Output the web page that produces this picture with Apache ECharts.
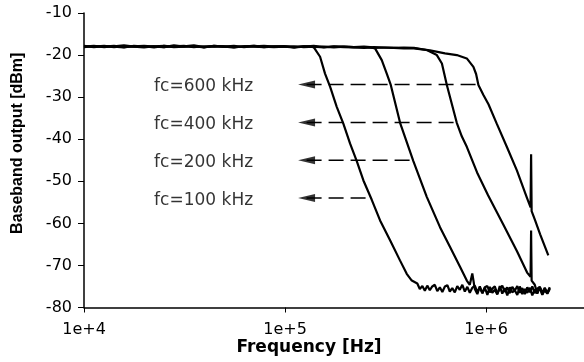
<!DOCTYPE html>
<html>
<head>
<meta charset="utf-8">
<script src="https://cdn.jsdelivr.net/npm/echarts@6/dist/echarts.min.js"></script>
<style>
  html, body {margin: 0; padding: 0; background: #fff;}
  #chart {width: 584px; height: 362px;}
</style>
</head>
<body>
<div id="chart"></div>
<script>
// passband, shared frequencies [Hz]
const flatFreq = [1.00e4, 1.12e4, 1.26e4, 1.41e4, 1.58e4, 1.77e4, 1.99e4, 2.23e4, 2.50e4, 2.80e4,
  3.14e4, 3.52e4, 3.95e4, 4.43e4, 4.97e4, 5.57e4, 6.25e4, 7.01e4, 7.86e4, 8.81e4,
  9.88e4, 1.11e5, 1.24e5, 1.39e5, 1.56e5, 1.75e5, 1.96e5, 2.20e5, 2.47e5, 2.77e5,
  3.10e5, 3.48e5, 3.90e5, 4.38e5];
const fc100Flat = [-18.0, -17.8, -18.1, -17.9, -17.7, -18.0, -17.9, -18.2, -17.8, -18.0, -17.9, -17.7,
  -18.1, -17.9, -18.0, -17.8, -18.1, -17.9, -17.8, -18.0, -17.9, -18.1, -17.9];
const fc200Flat = [-17.8, -18.1, -17.9, -18.0, -18.2, -17.8, -18.0, -17.9, -18.1, -17.7, -18.0, -17.9,
  -18.2, -17.8, -18.0, -18.1, -17.9, -17.8, -18.1, -18.0, -17.9, -18.2, -18.0, -17.8, -18.1, -17.9,
  -18.0, -18.1, -18.0];
const fc400Flat = [-17.9, -18.0, -17.8, -18.1, -17.9, -18.0, -18.2, -17.9, -17.8, -18.1, -18.0, -17.9,
  -18.1, -17.8, -18.0, -18.2, -17.9, -18.0, -18.1, -17.9, -18.0, -18.2, -17.9, -18.1, -18.0, -18.2,
  -18.0, -18.1, -18.3, -18.1, -18.2, -18.3, -18.2, -18.3];
const fc600Flat = [-18.1, -17.9, -18.0, -17.8, -18.1, -17.9, -17.8, -18.0, -18.1, -17.9, -17.8, -18.1,
  -17.9, -18.0, -17.9, -18.1, -18.0, -17.8, -18.0, -18.1, -18.0, -17.9, -18.1, -18.0, -18.2, -18.0,
  -18.1, -18.2, -18.1, -18.3, -18.2, -18.3, -18.4, -18.4];

// roll-off
const fc100RollFreq = [1.383e5, 1.494e5, 1.581e5, 1.675e5, 1.808e5, 1.950e5, 2.105e5, 2.274e5, 2.454e5, 2.700e5,
  2.97e5, 3.33e5, 3.73e5, 4.03e5, 4.27e5];
const fc100RollDb = [-18.0, -20.4, -24.4, -27.5, -32.3, -36.3, -41.0, -45.2, -49.8, -54.4,
  -59.3, -64.0, -68.8, -72.0, -73.6];
const fc200RollFreq = [2.65e5, 2.804e5, 3.028e5, 3.206e5, 3.357e5, 3.735e5, 4.348e5, 5.07e5, 5.90e5, 6.62e5, 7.43e5, 8.02e5];
const fc200RollDb = [-18.1, -18.4, -21.2, -24.4, -27.1, -36.1, -45.2, -53.7, -60.9, -65.6, -70.4, -73.6];
const fc400RollFreq = [5.07e5, 5.69e5, 6.03e5, 6.38e5, 7.15e5, 7.57e5, 8.02e5, 9.02e5, 1.023e6, 1.216e6, 1.427e6, 1.600e6,
  1.665e6, 1.675e6, 1.685e6, 1.694e6];
const fc400RollDb = [-18.8, -20.0, -22.0, -27.1, -36.1, -39.3, -41.8, -47.9, -53.3, -60.2, -66.7, -71.7,
  -72.7, -61.7, -73.6, -73.8];
const fc600RollFreq = [5.26e5, 6.25e5, 7.15e5, 8.02e5, 8.65e5, 8.92e5, 9.16e5, 9.7e5, 1.028e6, 1.13e6, 1.268e6, 1.423e6, 1.594e6,
  1.665e6, 1.675e6, 1.685e6, 1.754e6, 1.858e6, 2.04e6];
const fc600RollDb = [-18.9, -19.6, -20.0, -20.8, -22.8, -24.5, -27.1, -29.5, -31.7, -36.3, -41.8, -47.4, -53.8,
  -56.2, -43.6, -57.1, -59.3, -62.6, -67.6];

// noise floor, shared frequencies [Hz]
const floorFreq = [4.55e5, 4.68e5, 4.82e5, 4.96e5, 5.10e5, 5.25e5, 5.40e5, 5.56e5, 5.72e5, 5.89e5,
  6.06e5, 6.24e5, 6.42e5, 6.60e5, 6.79e5, 6.99e5, 7.19e5, 7.40e5, 7.62e5, 7.84e5,
  8.07e5, 8.30e5, 8.54e5, 8.79e5, 9.05e5, 9.31e5, 9.58e5, 9.86e5,
  1.015e6, 1.044e6, 1.074e6, 1.105e6, 1.137e6, 1.170e6, 1.204e6, 1.239e6, 1.275e6, 1.312e6,
  1.350e6, 1.389e6, 1.430e6, 1.471e6, 1.514e6, 1.558e6, 1.603e6, 1.650e6, 1.698e6, 1.747e6,
  1.798e6, 1.850e6, 1.904e6, 1.959e6, 2.016e6, 2.075e6];
const fc100Floor = [-74.3, -75.6, -74.9, -76.0, -74.8, -75.9, -75.0, -74.6, -76.1,
  -75.2, -76.3, -75.0, -74.7, -76.2, -75.4, -76.4, -74.9, -75.8,
  -74.6, -76.2, -75.1, -76.5, -75.3, -74.8, -76.3, -75.2, -76.6,
  -75.2, -74.9, -76.4, -75.5, -75.0, -76.7, -75.6, -74.8, -76.3,
  -75.2, -76.6, -75.1, -76.0, -74.9, -76.5, -75.4, -76.8, -75.2,
  -76.4, -75.0, -76.6, -75.5, -75.1, -76.5, -75.3, -76.7, -75.6];
const fc200Floor = [-74.6, -71.9, -75.6, -76.8, -75.0, -76.6, -75.3, -77.0, -75.1, -76.5, -75.8,
  -76.9, -74.9, -76.7, -75.4, -77.1, -75.2, -76.4, -75.9, -77.0, -75.0, -76.8,
  -75.6, -76.5, -75.3, -77.1, -75.7, -76.6, -75.1, -76.9, -75.9, -76.7, -75.4];
const fc400Floor = [-74.6, -76.7, -75.2, -77.0, -75.5, -76.5, -75.2];

// dashed markers
const markerNames = ['fc=600 kHz', 'fc=400 kHz', 'fc=200 kHz', 'fc=100 kHz'];
const markerLevels = [-27, -36, -45, -54];
const markerEnds = [9.2e5, 7.2e5, 4.4e5, 2.68e5];
const markerStart = 1.28e5;

const xTickLabels = ['1e+4', '1e+5', '1e+6'];

function trace(flat, rollFreq, rollDb, floor) {
  const pts = flat.map((v, i) => [flatFreq[i], v]);
  rollFreq.forEach((f, i) => pts.push([f, rollDb[i]]));
  if (floor) {
    const off = floorFreq.length - floor.length;
    floor.forEach((v, i) => pts.push([floorFreq[off + i], v]));
  }
  return pts;
}

const curve = {
  type: 'line', symbol: 'none', showSymbol: false, silent: true, z: 3,
  lineStyle: {color: '#000', width: 2.2}
};

const chart = echarts.init(document.getElementById('chart'));
chart.setOption({
  animation: false,
  backgroundColor: '#fff',
  grid: {left: 84, right: 0, top: 13, bottom: 54.5, containLabel: false, outerBoundsMode: 'none'},
  xAxis: {
    type: 'log', logBase: 10, min: 1e4, max: 3.07e6,
    name: 'Frequency [Hz]', nameLocation: 'middle', nameGap: 32, nameMoveOverlap: false,
    nameTextStyle: {color: '#000', fontFamily: 'DejaVu Sans', fontWeight: 'bold', fontSize: 17, padding: [0, 50, 0, 0]},
    axisLine: {lineStyle: {color: '#000', width: 1.5}},
    axisTick: {show: true, inside: false, length: 5, lineStyle: {color: '#000', width: 1}},
    minorTick: {show: false},
    splitLine: {show: false},
    axisLabel: {
      color: '#000', fontFamily: 'DejaVu Sans', fontSize: 16, margin: 14, showMaxLabel: false,
      formatter(v) {
        const e = Math.log10(v);
        if (Math.abs(e - Math.round(e)) > 1e-6) return '';
        return xTickLabels[Math.round(e) - 4] || '';
      }
    }
  },
  yAxis: {
    type: 'value', min: -80, max: -10, interval: 10,
    name: 'Baseband output [dBm]', nameLocation: 'middle', nameGap: 58, nameMoveOverlap: false,
    nameTextStyle: {color: '#000', fontFamily: 'Liberation Sans', fontWeight: 'bold', fontSize: 16, padding: [0, 0, 0, 34]},
    axisLine: {show: true, lineStyle: {color: '#000', width: 1.5}},
    axisTick: {show: true, inside: false, length: 6, lineStyle: {color: '#000', width: 1}},
    splitLine: {show: false},
    axisLabel: {color: '#000', fontFamily: 'DejaVu Sans', fontSize: 16, margin: 12}
  },
  series: [
    {...curve, name: 'fc=100 kHz', data: trace(fc100Flat, fc100RollFreq, fc100RollDb, fc100Floor)},
    {...curve, name: 'fc=200 kHz', data: trace(fc200Flat, fc200RollFreq, fc200RollDb, fc200Floor)},
    {...curve, name: 'fc=400 kHz', data: trace(fc400Flat, fc400RollFreq, fc400RollDb, fc400Floor)},
    {...curve, name: 'fc=600 kHz', data: trace(fc600Flat, fc600RollFreq, fc600RollDb, null)},
    ...markerNames.map((n, i) => ({
      type: 'line', symbol: 'none', silent: true, z: 2,
      lineStyle: {color: '#000', width: 1.5, type: [15, 7]},
      data: [[markerStart, markerLevels[i]], [markerEnds[i], markerLevels[i]]]
    })),
    {
      type: 'scatter', silent: true, symbol: 'triangle', symbolRotate: 90, symbolSize: [8, 17],
      itemStyle: {color: '#000'},
      data: markerLevels.map(v => [markerStart, v])
    },
    {
      type: 'scatter', silent: true, symbolSize: 1, itemStyle: {color: 'transparent'},
      label: {
        show: true, position: 'left', distance: 53, offset: [0, 2], formatter: '{b}',
        color: '#000', fontFamily: 'DejaVu Sans', fontSize: 17
      },
      data: markerLevels.map((v, i) => ({name: markerNames[i], value: [markerStart, v]}))
    }
  ]
});
</script>
</body>
</html>
